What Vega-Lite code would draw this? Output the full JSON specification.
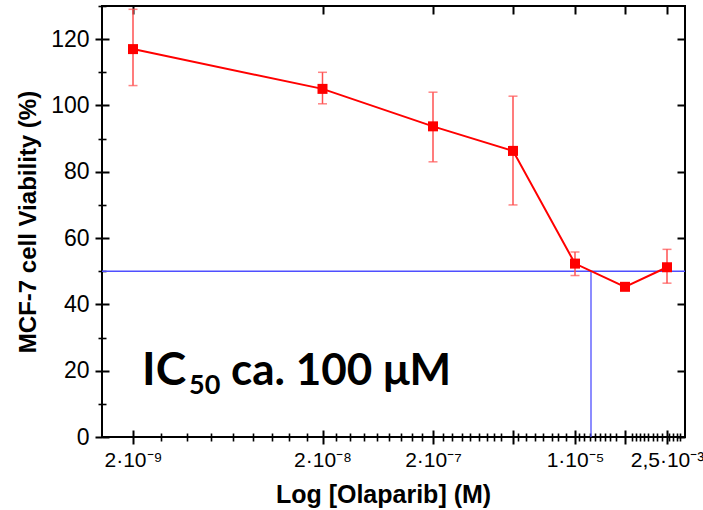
{
  "$schema": "https://vega.github.io/schema/vega-lite/v6.json",
  "width": 583,
  "height": 431,
  "autosize": {"type": "none"},
  "padding": {"left": 102, "top": 6, "right": 18, "bottom": 73},
  "background": "white",
  "config": {
    "view": {"stroke": "black", "strokeWidth": 2},
    "axis": {"grid": false, "domain": false, "tickColor": "black", "labelColor": "black", "titleColor": "black", "labelFont": "Liberation Sans", "titleFont": "Liberation Sans"}
  },
  "datasets": {
    "pts": [
      {"x": 31, "v": 117, "lo": 106, "hi": 129},
      {"x": 220.5, "v": 105, "lo": 100.5, "hi": 110},
      {"x": 331, "v": 93.7, "lo": 83, "hi": 104},
      {"x": 411, "v": 86.3, "lo": 70, "hi": 102.8},
      {"x": 473, "v": 52.3, "lo": 48.7, "hi": 55.8},
      {"x": 523, "v": 45.3, "lo": null, "hi": null},
      {"x": 565, "v": 51.2, "lo": 46.4, "hi": 56.6}
    ],
    "hline": [{"x": 0, "x2": 583, "y": 50}],
    "vline": [{"x": 489, "y": 0, "y2": 50}],
    "ann": [{"x": 40, "y": 15.7}]
  },
  "resolve": {"axis": {"x": "independent", "y": "independent"}},
  "layer": [
    {
      "data": {"name": "hline"},
      "mark": {"type": "rule", "color": "#4f4fff", "strokeWidth": 1.3},
      "encoding": {
        "x": {"field": "x", "type": "quantitative",
          "scale": {"domain": [0, 583], "nice": false, "zero": false},
          "axis": {"orient": "bottom", "values": [31, 220.5, 331, 411, 473, 523, 565], "tickSize": 7, "tickWidth": 2, "labelFontSize": 21, "labelPadding": 5,
            "labelExpr": "datum.value == 31 ? '2·10⁻⁹' : datum.value == 220.5 ? '2·10⁻⁸' : datum.value == 331 ? '2·10⁻⁷' : datum.value == 473 ? '1·10⁻⁵' : datum.value == 565 ? '2,5·10⁻³' : ''",
            "labelFlush": false, "labelOverlap": false,
            "title": "Log [Olaparib] (M)", "titleFontSize": 25, "titleFontWeight": "bold", "titleX": 281, "titleY": 65, "titleBaseline": "alphabetic", "titleAnchor": "middle"}},
        "x2": {"field": "x2"},
        "y": {"field": "y", "type": "quantitative",
          "scale": {"domain": [0, 130], "nice": false, "zero": false},
          "axis": {"orient": "left", "values": [0, 20, 40, 60, 80, 100, 120], "tickSize": 7, "tickWidth": 2, "labelFontSize": 23, "labelPadding": 6,
            "title": "MCF-7 cell Viability (%)", "titleFontSize": 24, "titleFontWeight": "bold", "titlePadding": 10}}
      }
    },
    {
      "data": {"name": "vline"},
      "mark": {"type": "rule", "color": "#4f4fff", "strokeWidth": 1.3},
      "encoding": {
        "x": {"field": "x", "type": "quantitative",
          "axis": {"orient": "bottom", "values": [31, 220.5, 331, 411, 473, 523, 565], "tickSize": -7, "tickWidth": 2, "labels": false, "title": null}},
        "y": {"field": "y", "type": "quantitative",
          "axis": {"orient": "left", "values": [0, 20, 40, 60, 80, 100, 120], "tickSize": -7, "tickWidth": 2, "labels": false, "title": null}},
        "y2": {"field": "y2"}
      }
    },
    {
      "data": {"name": "pts"},
      "mark": {"type": "rule", "color": "#ff5050", "strokeWidth": 1.5},
      "encoding": {
        "x": {"field": "x", "type": "quantitative",
          "axis": {"orient": "bottom", "values": [59, 85, 109, 131, 151, 170, 187, 205, 234, 248, 262, 275, 287, 299, 310, 320, 341, 350, 360, 368, 377, 385, 392, 399, 416, 424, 433, 441, 450, 456, 464, 477, 482, 488, 493, 498, 503, 508, 514, 530, 534, 538, 542, 546, 551, 555, 560, 567, 571, 575, 578], "tickSize": 4, "tickWidth": 1.6, "labels": false, "title": null}},
        "y": {"field": "lo", "type": "quantitative",
          "axis": {"orient": "left", "values": [10, 30, 50, 70, 90, 110, 130], "tickSize": 4, "tickWidth": 1.6, "labels": false, "title": null}},
        "y2": {"field": "hi"}
      }
    },
    {
      "data": {"name": "pts"},
      "mark": {"type": "tick", "orient": "horizontal", "color": "#ff5050", "size": 9, "thickness": 1.5},
      "encoding": {
        "x": {"field": "x", "type": "quantitative",
          "axis": {"orient": "bottom", "values": [59, 85, 109, 131, 151, 170, 187, 205, 234, 248, 262, 275, 287, 299, 310, 320, 341, 350, 360, 368, 377, 385, 392, 399, 416, 424, 433, 441, 450, 456, 464, 477, 482, 488, 493, 498, 503, 508, 514, 530, 534, 538, 542, 546, 551, 555, 560, 567, 571, 575, 578], "tickSize": -4, "tickWidth": 1.6, "labels": false, "title": null}},
        "y": {"field": "lo", "type": "quantitative",
          "axis": {"orient": "left", "values": [10, 30, 50, 70, 90, 110, 130], "tickSize": -4, "tickWidth": 1.6, "labels": false, "title": null}}
      }
    },
    {
      "data": {"name": "pts"},
      "mark": {"type": "tick", "orient": "horizontal", "color": "#ff5050", "size": 9, "thickness": 1.5},
      "encoding": {
        "x": {"field": "x", "type": "quantitative", "axis": null},
        "y": {"field": "hi", "type": "quantitative", "axis": null}
      }
    },
    {
      "data": {"name": "pts"},
      "mark": {"type": "line", "color": "#ff0000", "strokeWidth": 2},
      "encoding": {
        "x": {"field": "x", "type": "quantitative",
          "axis": {"orient": "top", "values": [31, 220.5, 331, 411, 473, 523, 565], "tickSize": -8, "tickWidth": 2, "labels": false, "title": null}},
        "y": {"field": "v", "type": "quantitative",
          "axis": {"orient": "right", "values": [0, 20, 40, 60, 80, 100, 120], "tickSize": -8, "tickWidth": 2, "labels": false, "title": null}}
      }
    },
    {
      "data": {"name": "pts"},
      "mark": {"type": "point", "shape": "square", "filled": true, "color": "#ff0000", "size": 100, "opacity": 1},
      "encoding": {
        "x": {"field": "x", "type": "quantitative", "axis": null},
        "y": {"field": "v", "type": "quantitative", "axis": null}
      }
    },
    {
      "data": {"name": "ann"},
      "mark": {"type": "text", "text": "IC", "font": "Lato", "fontWeight": "bold", "fontSize": 46, "align": "left", "baseline": "alphabetic", "color": "black"},
      "encoding": {
        "x": {"field": "x", "type": "quantitative", "axis": null},
        "y": {"field": "y", "type": "quantitative", "axis": null}
      }
    },
    {
      "data": {"name": "ann"},
      "mark": {"type": "text", "text": "50", "font": "Lato", "fontWeight": "bold", "fontSize": 27, "align": "left", "baseline": "alphabetic", "color": "black", "dx": 47, "dy": 9},
      "encoding": {
        "x": {"field": "x", "type": "quantitative", "axis": null},
        "y": {"field": "y", "type": "quantitative", "axis": null}
      }
    },
    {
      "data": {"name": "ann"},
      "mark": {"type": "text", "text": "ca. 100 μM", "font": "Lato", "fontWeight": "bold", "fontSize": 44, "align": "left", "baseline": "alphabetic", "color": "black", "dx": 89},
      "encoding": {
        "x": {"field": "x", "type": "quantitative", "axis": null},
        "y": {"field": "y", "type": "quantitative", "axis": null}
      }
    }
  ]
}
